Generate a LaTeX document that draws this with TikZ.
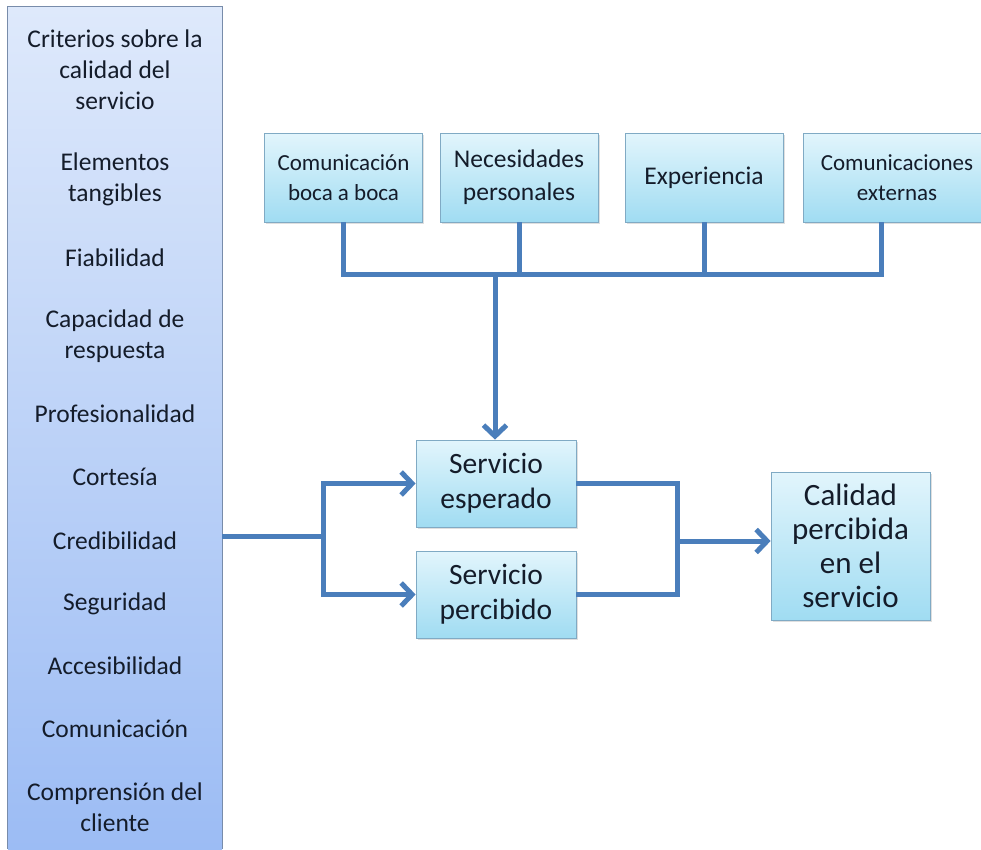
\documentclass[tikz,border=0pt]{standalone}
\usepackage{fontspec}
\setmainfont{Carlito}
\usetikzlibrary{arrows.meta,shadows}
\definecolor{lineblue}{RGB}{74,126,187}
\definecolor{cyantop}{RGB}{226,245,252}
\definecolor{cyanbot}{RGB}{160,220,242}
\definecolor{cyanborder}{RGB}{128,170,196}
\definecolor{lbtop}{RGB}{222,233,251}
\definecolor{lbbot}{RGB}{156,188,244}
\definecolor{lbborder}{RGB}{120,140,170}
\definecolor{textcol}{RGB}{20,28,42}
\tikzset{
  box/.style={draw=cyanborder, line width=0.8pt, top color=cyantop, bottom color=cyanbot,
    align=center, inner sep=2pt, text=textcol,
    drop shadow={opacity=0.25, shadow xshift=1.5pt, shadow yshift=-1.5pt}},
  topbox/.style={box, minimum width=158pt, minimum height=89pt},
  midbox/.style={box, minimum width=160pt, minimum height=87pt, font=\fontsize{29.5}{35}\selectfont},
  crit/.style={align=center, text=textcol, font=\fontsize{25.5}{31}\selectfont, inner sep=0pt},
  conn/.style={draw=lineblue, line width=5pt, line join=miter},
  arr/.style={-{Straight Barb[length=11pt,width=23pt]}}
}
\begin{document}
\begin{tikzpicture}[x=1pt,y=-1pt]
\useasboundingbox (0,0) rectangle (981,849);
\fill[white] (0,0) rectangle (981,849);
% left box
\node[minimum width=214pt, minimum height=842pt, inner sep=0pt, top color=lbtop, bottom color=lbbot] (lb) at (115,428) {};
\draw[lbborder, line width=0.8pt] (lb.south west) -- (lb.north west) -- (lb.north east) -- (lb.south east);
\node[crit] (c1) at (115,70) {Criterios sobre la\\calidad del\\servicio};
\node[crit] (c2) at (115,179) {Elementos\\tangibles};
\node[crit] (c3) at (115,258) {Fiabilidad};
\node[crit] (c4) at (115,336) {Capacidad de\\respuesta};
\node[crit] (c5) at (115,414) {Profesionalidad};
\node[crit] (c6) at (115,477) {Cortesía};
\node[crit] (c7) at (115,541) {Credibilidad};
\node[crit] (c8) at (115,604) {Seguridad};
\node[crit] (c9) at (115,666) {Accesibilidad};
\node[crit] (c10) at (115,729) {Comunicación};
\node[crit] (c11) at (115,807) {Comprensión del\\cliente};
% top boxes
\node[topbox, font=\fontsize{23}{30}\selectfont] (b1) at (343.5,177.5) {Comunicación\\boca a boca};
\node[topbox, font=\fontsize{25.5}{33}\selectfont] (b2) at (519,177.5) {Necesidades\\personales};
\node[topbox, font=\fontsize{25.5}{33}\selectfont] (b3) at (704,177.5) {Experiencia};
\node[topbox, minimum width=188pt, font=\fontsize{23}{30}\selectfont] (b4) at (897,177.5) {Comunicaciones\\externas};
\coordinate (b4c) at (881,222);
% middle boxes
\node[midbox] (se) at (496,483.5) {Servicio\\esperado};
\node[midbox] (sp) at (496,594.5) {Servicio\\percibido};
\node[box, minimum width=159pt, minimum height=148pt, font=\fontsize{31}{34}\selectfont] (cal) at (850.5,546) {Calidad\\percibida\\en el\\servicio};
% connectors top
\coordinate (jt) at (495,274);
\draw[conn] (b1.south) -- (b1.south |- jt) -- (b4c |- jt) -- (b4c);
\draw[conn] (b2.south) -- (b2.south |- jt);
\draw[conn] (b3.south) -- (b3.south |- jt);
\draw[conn,arr] (jt) -- (jt |- se.north);
% connectors left
\coordinate (jl) at (323,536);
\draw[conn] (lb.east |- jl) -- (jl);
\draw[conn,arr] (jl) |- (se.west);
\draw[conn,arr] (jl) |- (sp.west);
% connectors right
\coordinate (jr) at (677,541);
\draw[conn] (se.east) -| (jr |- sp.east) -- (sp.east);
\draw[conn,arr] (jr) -- (cal.west |- jr);
\end{tikzpicture}
\end{document}
